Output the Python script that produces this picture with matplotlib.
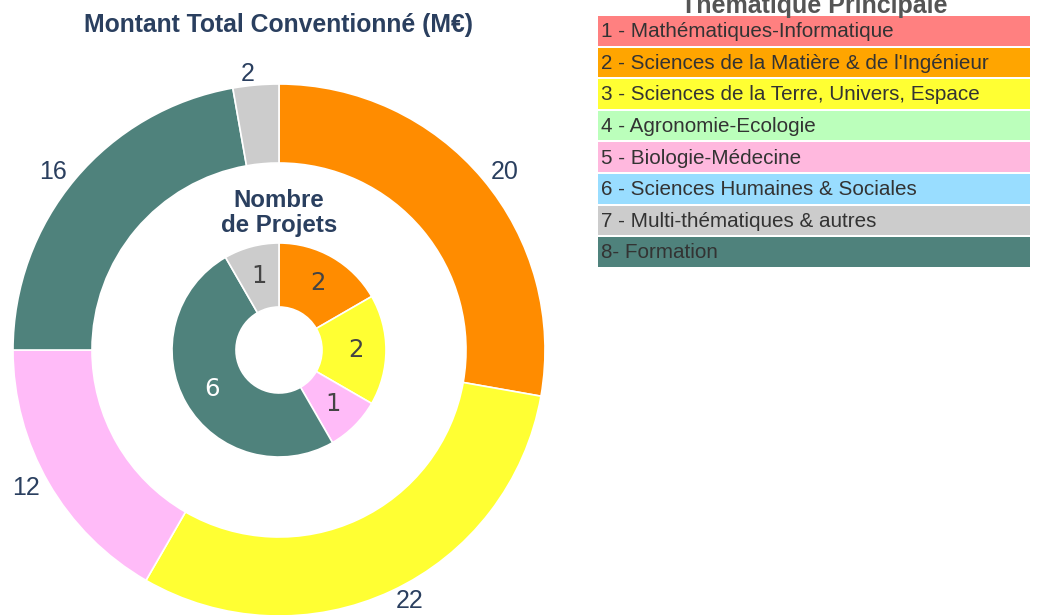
import matplotlib.pyplot as plt
from matplotlib.patches import Rectangle

# data
themes = [
    "1 - Mathématiques-Informatique",
    "2 - Sciences de la Matière & de l'Ingénieur",
    "3 - Sciences de la Terre, Univers, Espace",
    "4 - Agronomie-Ecologie",
    "5 - Biologie-Médecine",
    "6 - Sciences Humaines & Sociales",
    "7 - Multi-thématiques & autres",
    "8- Formation",
]
legend_colors = ["#FF8080", "#FFA500", "#FFFF33", "#BBFFBB",
                 "#FFB8DE", "#99DDFF", "#CCCCCC", "#4F827C"]

# slices present in the donuts (clockwise from top)
ring_themes = ["2", "3", "5", "8", "7"]
ring_colors = ["#FF8C00", "#FFFF33", "#FFBBF8", "#4F827C", "#CCCCCC"]
montant = [20, 22, 12, 16, 2]     # M€
projets = [2, 2, 1, 6, 1]

W, H = 1038, 615
NAVY = "#2A3F5F"

fig = plt.figure(figsize=(W / 100, H / 100), dpi=100)
ax = fig.add_axes([0, 0, 1, 1])
ax.set_xlim(0, W)
ax.set_ylim(0, H)
ax.set_aspect("equal")
ax.axis("off")

cx, cy = 279, H - 350

# outer ring: montant
wedges, texts = ax.pie(
    montant, radius=266, center=(cx, cy), startangle=90, counterclock=False,
    colors=ring_colors, labels=[str(v) for v in montant], labeldistance=1.04,
    wedgeprops=dict(width=79, edgecolor="white", linewidth=1.2),
    textprops=dict(color=NAVY, fontsize=18, family="Liberation Sans"),
)
# pie aligns on the sign of the absolute x, so fix sides around the centre
for t in texts:
    t.set_ha("right" if t.get_position()[0] < cx else "left")

# inner ring: projets
tot = sum(projets)
wedges2, texts2, autotexts = ax.pie(
    projets, radius=107, center=(cx, cy), startangle=90, counterclock=False,
    colors=ring_colors, autopct=lambda p: f"{round(p * tot / 100)}", pctdistance=0.72,
    wedgeprops=dict(width=64, edgecolor="white", linewidth=1.2),
    textprops=dict(color="#444444", fontsize=17.5, family="DejaVu Sans"),
)
for t, c in zip(autotexts, ring_colors):
    if c == "#4F827C":
        t.set_color("white")

ax.set_xlim(0, W)
ax.set_ylim(0, H)

ax.text(cx, H - 25, "Montant Total Conventionné (M€)", ha="center", va="center",
        fontsize=17.8, fontweight="bold", color=NAVY, family="Liberation Sans")
ax.text(cx, H - 213, "Nombre\nde Projets", ha="center", va="center",
        fontsize=17.3, fontweight="bold", color=NAVY, family="Liberation Sans",
        linespacing=1.15)

# legend
lx0, lx1 = 598, 1030
top0, pitch, bh = 16, 31.6, 29.5
ax.text((lx0 + lx1) / 2, H - 13, "Thématique Principale", ha="center", va="baseline",
        fontsize=18, fontweight="bold", color="#555555", family="Liberation Sans")
for i, (name, col) in enumerate(zip(themes, legend_colors)):
    top = top0 + i * pitch
    ax.add_patch(Rectangle((lx0, H - top - bh), lx1 - lx0, bh, facecolor=col,
                           edgecolor="none"))
    ax.text(lx0 + 3, H - top - bh / 2 - 1, name, ha="left", va="center",
            fontsize=14.9, color="#333333", family="Liberation Sans")

fig.savefig("out.png", dpi=100)
